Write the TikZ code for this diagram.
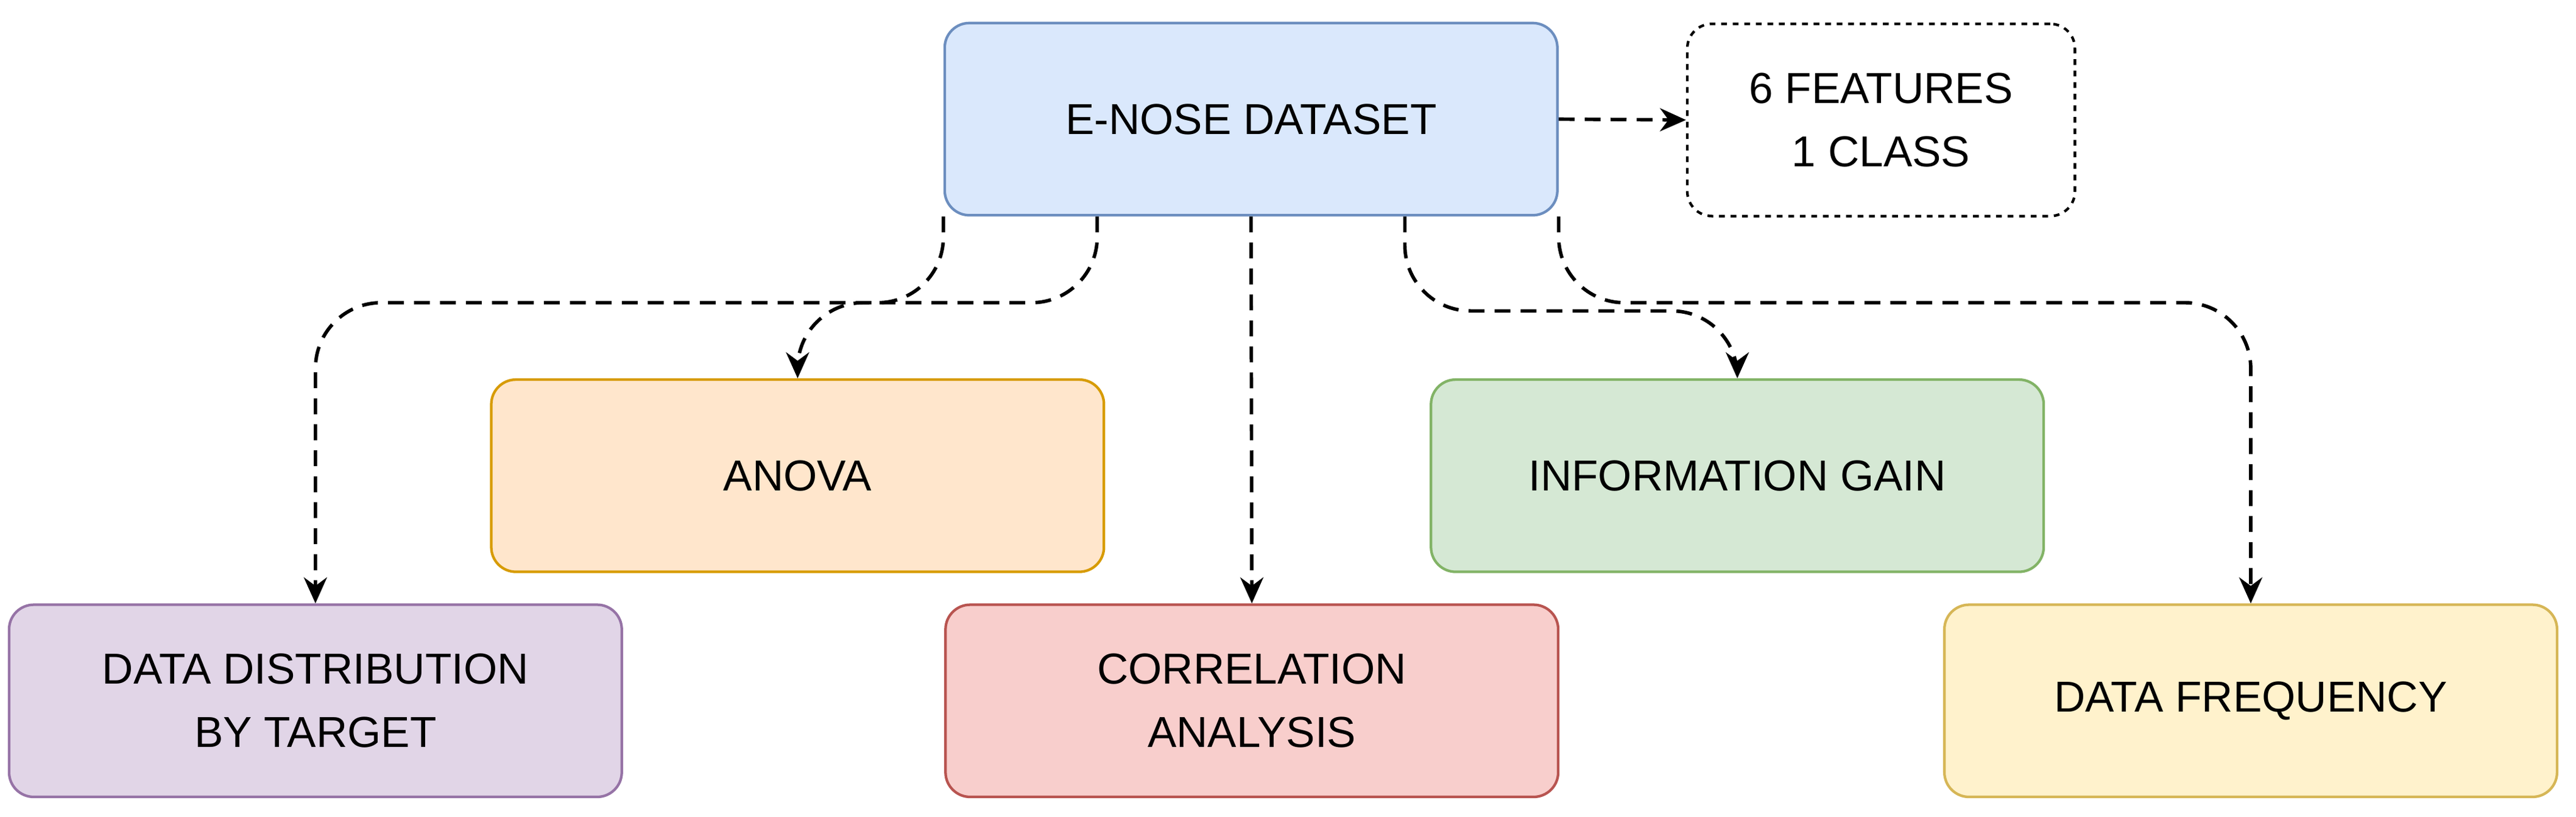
\documentclass[tikz,border=0pt]{standalone}
\usepackage{fontspec}
\setmainfont{Liberation Sans}
\usetikzlibrary{calc,arrows.meta}
\begin{document}
\begin{tikzpicture}[x=0.02cm,y=-0.02cm,
  box/.style={rounded corners=0.3cm,minimum width=7.46cm,minimum height=2.34cm,line width=0.9pt,align=center,font=\fontsize{15}{22}\selectfont},
  conn/.style={line width=1.2pt,dash pattern=on 5.5pt off 3.5pt,-{Stealth[length=9pt,width=8pt]},rounded corners=0.8cm}]
\useasboundingbox (0,0) rectangle (1568,497);
\node[box,fill={rgb,255:red,218;green,232;blue,252},draw={rgb,255:red,108;green,142;blue,191}] (enose) at (761.5,72.5) {E-NOSE DATASET};
\node[box,minimum width=4.72cm,dash pattern=on 2pt off 2pt,draw=black,fill=white] (feat) at (1145,73) {6 FEATURES\\1 CLASS};
\node[box,fill={rgb,255:red,255;green,230;blue,204},draw={rgb,255:red,215;green,155;blue,0}] (anova) at (485.5,289.5) {ANOVA};
\node[box,fill={rgb,255:red,213;green,232;blue,212},draw={rgb,255:red,130;green,179;blue,102}] (info) at (1057.5,289.5) {INFORMATION GAIN};
\node[box,fill={rgb,255:red,225;green,213;blue,231},draw={rgb,255:red,150;green,115;blue,166}] (dist) at (192,426.5) {DATA DISTRIBUTION\\BY TARGET};
\node[box,fill={rgb,255:red,248;green,206;blue,204},draw={rgb,255:red,184;green,84;blue,80}] (corr) at (762,426.5) {CORRELATION\\ANALYSIS};
\node[box,fill={rgb,255:red,255;green,242;blue,204},draw={rgb,255:red,214;green,182;blue,86}] (freq) at (1370,426.5) {DATA FREQUENCY};
\coordinate (a1) at ($(enose.south west)!0.25!(enose.south east)$);
\coordinate (a3) at ($(enose.south west)!0.75!(enose.south east)$);
\draw[conn] (enose.south west) |- ($(dist.north)+(0,-183)$) -- (dist.north);
\draw[conn] (a1) |- ($(anova.north)+(0,-46)$) -- (anova.north);
\draw[conn,rounded corners=0] (enose.south) -- (corr.north);
\draw[conn] (a3) |- ($(info.north)+(0,-41)$) -- (info.north);
\draw[conn] (enose.south east) |- ($(freq.north)+(0,-183)$) -- (freq.north);
\draw[conn] (enose.east) -- (feat.west);
\end{tikzpicture}
\end{document}
